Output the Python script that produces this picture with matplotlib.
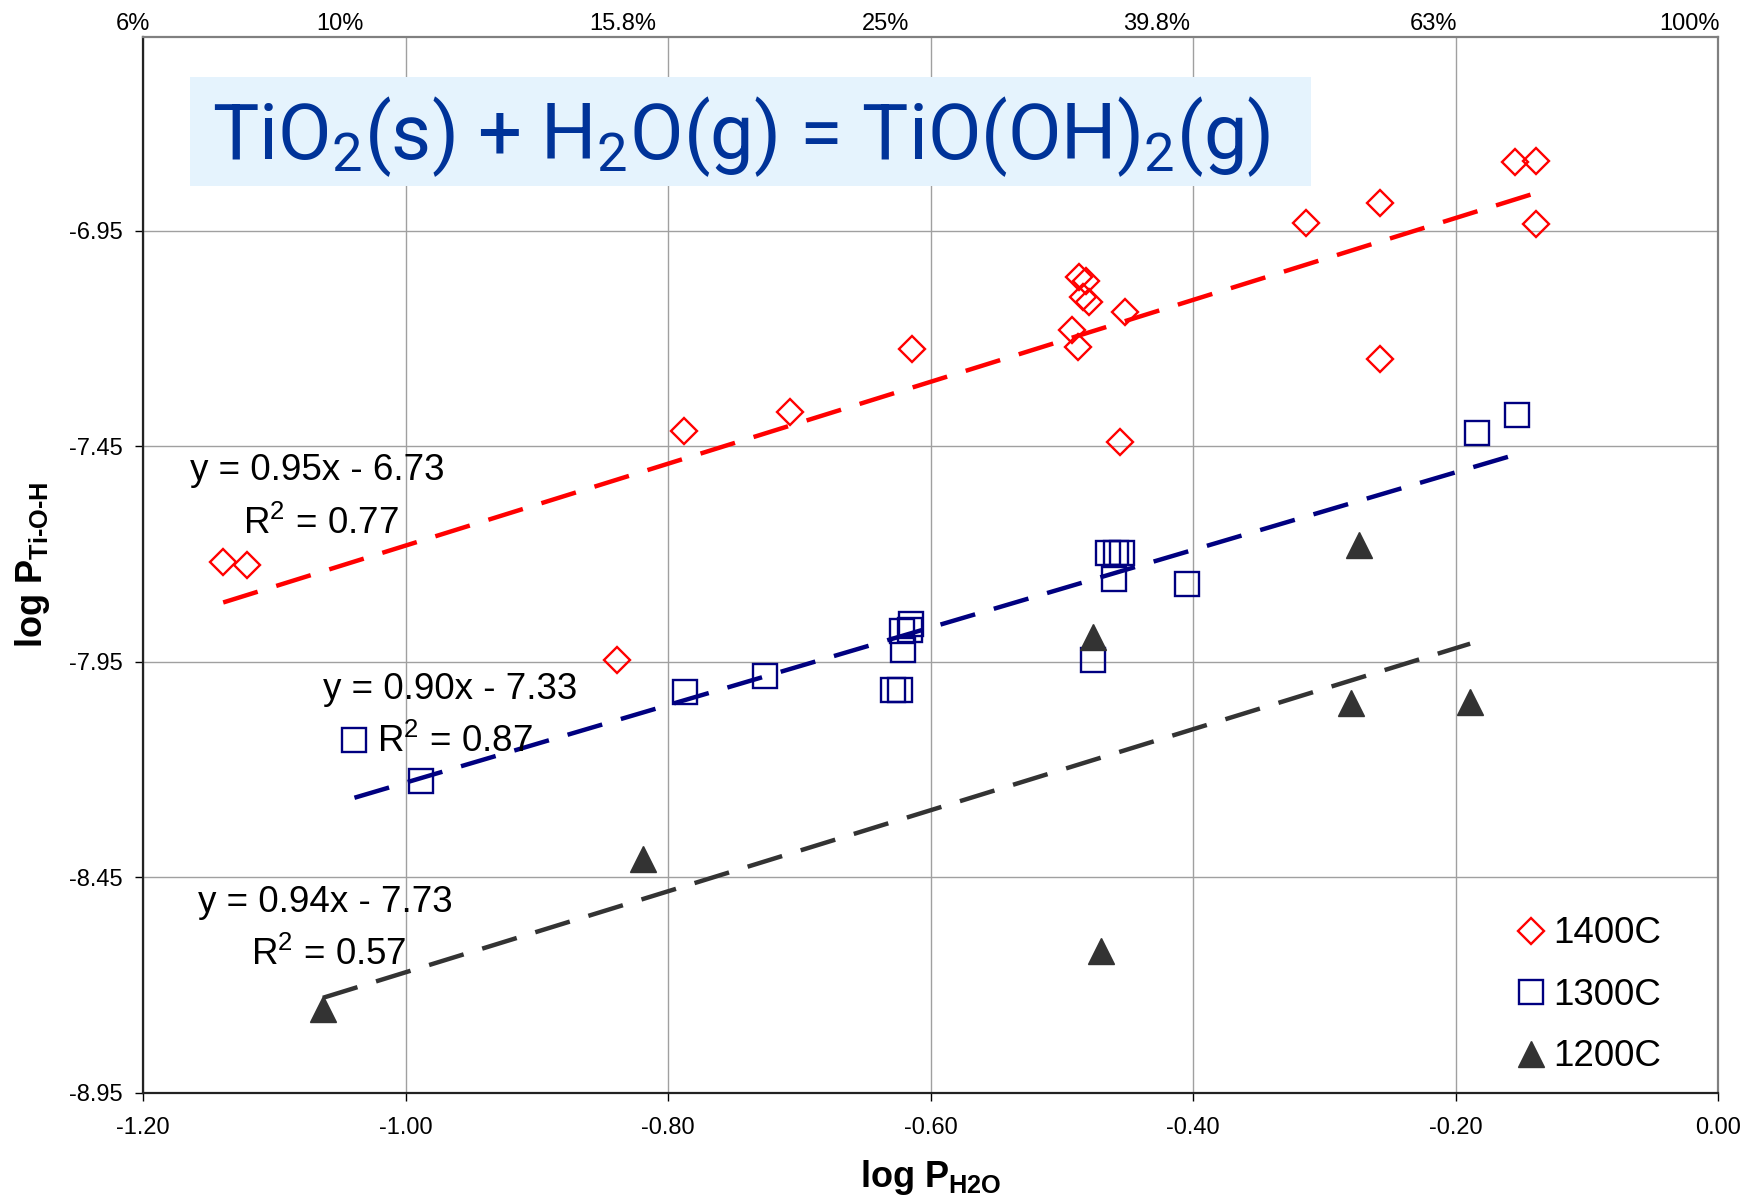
import matplotlib
matplotlib.use("Agg")
import matplotlib.pyplot as plt
import matplotlib.transforms as mtransforms
from matplotlib.patches import Rectangle
import numpy as np

plt.rcParams['font.family'] = ['Liberation Sans', 'DejaVu Sans']
plt.rcParams['mathtext.fontset'] = 'custom'
plt.rcParams['mathtext.rm'] = 'Liberation Sans'
plt.rcParams['mathtext.bf'] = 'Liberation Sans:bold'

# data (log P_H2O, log P_Ti-O-H)
t1400_x = [-1.139, -1.121, -0.839, -0.788, -0.707, -0.614, -0.487, -0.482, -0.484, -0.479,
           -0.452, -0.492, -0.488, -0.456, -0.314, -0.258, -0.258, -0.155, -0.139, -0.139]
t1400_y = [-7.718, -7.726, -7.946, -7.414, -7.370, -7.225, -7.056, -7.067, -7.104, -7.115,
           -7.139, -7.181, -7.220, -7.440, -6.932, -6.885, -7.246, -6.789, -6.787, -6.934]

t1300_x = [-1.039, -0.988, -0.787, -0.726, -0.629, -0.623, -0.615, -0.622, -0.616, -0.621,
           -0.476, -0.465, -0.459, -0.454, -0.460, -0.405, -0.184, -0.153]
t1300_y = [-8.130, -8.226, -8.019, -7.982, -8.014, -8.014, -7.861, -7.879, -7.875, -7.922,
           -7.946, -7.697, -7.697, -7.697, -7.758, -7.770, -7.420, -7.378]

t1200_x = [-1.063, -0.819, -0.476, -0.470, -0.280, -0.274, -0.189]
t1200_y = [-8.755, -8.408, -7.892, -8.621, -8.045, -7.679, -8.042]

series_names = ['1400C', '1300C', '1200C']
fit_slope = [0.95, 0.90, 0.94]
fit_icpt = [-6.73, -7.33, -7.73]
fit_r2 = [0.77, 0.87, 0.57]

x_ticks = [-1.20, -1.00, -0.80, -0.60, -0.40, -0.20, 0.00]
y_ticks = [-8.95, -8.45, -7.95, -7.45, -6.95]
top_labels = ['6%', '10%', '15.8%', '25%', '39.8%', '63%', '100%']
top_label_x = [-1.195, -1.032, -0.809, -0.616, -0.402, -0.199, 0.001]

# where the trendline equations sit (left edge, baseline)
eq_pos = [(-1.164, -7.529), (-1.063, -8.035), (-1.158, -8.530)]
r2_pos = [(-1.124, -7.6525), (-1.022, -8.159), (-1.118, -8.654)]

colors = ['#FF0000', '#000080', '#333333']
markers = ['D', 's', '^']
msizes = [13.2, 17.5, 19]

fig = plt.figure(figsize=(17.54, 12), dpi=100)
ax = fig.add_axes([0.0816, 0.0892, 0.898, 0.880])

xs = [t1400_x, t1300_x, t1200_x]
ys = [t1400_y, t1300_y, t1200_y]

lw = 3.2
for i in range(3):
    if markers[i] == '^':
        ax.plot(xs[i], ys[i], linestyle='none', marker='^', ms=msizes[i],
                color=colors[i], label=series_names[i], zorder=3)
    else:
        ax.plot(xs[i], ys[i], linestyle='none', marker=markers[i], ms=msizes[i],
                mfc='none', mec=colors[i], mew=1.7, label=series_names[i], zorder=3)
    xl = np.array([min(xs[i]), max(xs[i])])
    ax.plot(xl, fit_slope[i] * xl + fit_icpt[i], color=colors[i], lw=lw,
            linestyle=(0, (26 / lw, 14 / lw)), zorder=4)
    ax.text(eq_pos[i][0], eq_pos[i][1], 'y = %.2fx - %.2f' % (fit_slope[i], -fit_icpt[i]),
            fontsize=26.5, va='baseline', ha='left', zorder=5)
    ax.text(r2_pos[i][0], r2_pos[i][1], r'R$^\mathregular{2}$ = %.2f' % fit_r2[i],
            fontsize=26.5, va='baseline', ha='left', zorder=5)

ax.set_xlim(-1.2, 0.0)
ax.set_ylim(-8.95, -6.50)
ax.set_xticks(x_ticks)
ax.set_xticklabels(['%.2f' % v for v in x_ticks])
ax.set_yticks(y_ticks)
ax.set_yticklabels(['%.2f' % v for v in y_ticks])
ax.tick_params(axis='both', labelsize=17, direction='out', length=6, width=1)
ax.tick_params(axis='x', pad=11)
ax.tick_params(axis='y', pad=9)
ax.grid(True, color='#A0A0A0', lw=1.0)
ax.set_axisbelow(True)

for s in ['left', 'bottom']:
    ax.spines[s].set_color('#222222')
    ax.spines[s].set_linewidth(1.6)
for s in ['top', 'right']:
    ax.spines[s].set_color('#808080')
    ax.spines[s].set_linewidth(1.6)

# percentage labels along the top
trans = mtransforms.blended_transform_factory(ax.transData, ax.transAxes)
for xv, lab in zip(top_label_x, top_labels):
    ax.text(xv, 1.0066, lab, transform=trans, ha='right', va='baseline', fontsize=17,
            clip_on=False)

ax.set_xlabel(r'log P$_\mathregular{H2O}$', fontsize=26, fontweight='bold')
ax.xaxis.set_label_coords(0.5, -0.062)
ax.set_ylabel('log P$_\\mathregular{Ti\u2010O\u2010H}$', fontsize=26, fontweight='bold')
ax.yaxis.set_label_coords(-0.058, 0.5)

# reaction title box
ax.add_patch(Rectangle((0.0297, 0.8589), 0.7118, 0.1032, transform=ax.transAxes,
                       facecolor='#E5F3FD', edgecolor='none', zorder=2))
ax.text(0.044, 0.906,
        r'TiO$_\mathregular{2}$(s) + H$_\mathregular{2}$O(g) = TiO(OH)$_\mathregular{2}$(g)',
        transform=ax.transAxes, fontsize=56, family='Roboto', color='#003399',
        ha='left', va='center', zorder=3)

ax.legend(loc='center left', bbox_to_anchor=(0.8697, 0.0924), frameon=False,
          fontsize=26.5, handlelength=1.0, handletextpad=0.1, borderpad=0,
          borderaxespad=0, labelspacing=0.72)

fig.savefig('out.png', dpi=100)
